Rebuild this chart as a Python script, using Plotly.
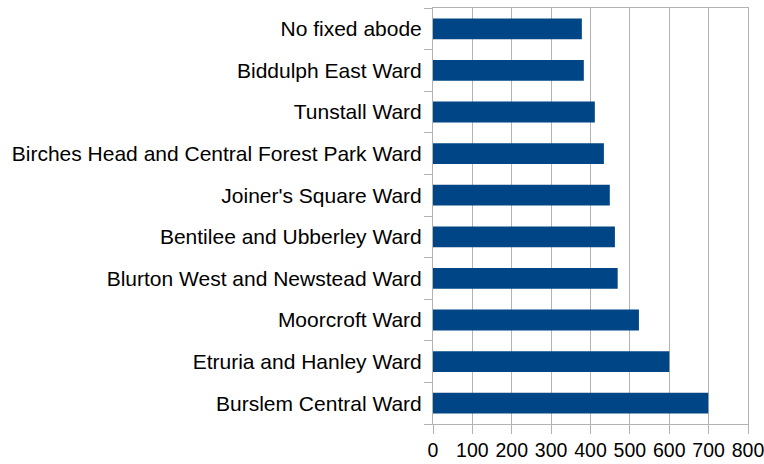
import plotly.graph_objects as go

# Wards, listed bottom to top as drawn on the category axis
wards = [
    "Burslem Central Ward",
    "Etruria and Hanley Ward",
    "Moorcroft Ward",
    "Blurton West and Newstead Ward",
    "Bentilee and Ubberley Ward",
    "Joiner's Square Ward",
    "Birches Head and Central Forest Park Ward",
    "Tunstall Ward",
    "Biddulph East Ward",
    "No fixed abode",
]
counts = [699, 600, 523, 469, 462, 449, 434, 411, 383, 378]

x_ticks = [0, 100, 200, 300, 400, 500, 600, 700, 800]

grid_col = "#b3b3b3"

fig = go.Figure(
    go.Bar(
        x=counts,
        y=wards,
        orientation="h",
        marker=dict(color="#004586", line=dict(width=0)),
        hoverinfo="x+y",
    )
)

fig.update_layout(
    width=764,
    height=464,
    margin=dict(l=433, r=16, t=8, b=40),
    paper_bgcolor="white",
    plot_bgcolor="white",
    bargap=0.5,
    showlegend=False,
    font=dict(family="Liberation Sans, Arial, sans-serif", size=21, color="#000000"),
)

fig.update_xaxes(
    range=[0, 800],
    tickvals=x_ticks,
    ticktext=[str(v) for v in x_ticks],
    showgrid=True,
    gridcolor=grid_col,
    gridwidth=1,
    zeroline=False,
    showline=True,
    linecolor=grid_col,
    linewidth=1,
    mirror=True,
    ticks="outside",
    ticklen=9,
    tickcolor=grid_col,
    tickfont=dict(size=19.5),
    ticklabeloverflow="allow",
    automargin=False,
)

fig.update_yaxes(
    type="category",
    categoryorder="array",
    categoryarray=wards,
    showgrid=False,
    zeroline=False,
    showline=True,
    linecolor=grid_col,
    linewidth=1,
    mirror=True,
    ticks="outside",
    tickson="boundaries",
    ticklen=8,
    tickcolor=grid_col,
    tickfont=dict(size=21),
    ticklabelstandoff=6,
    automargin=False,
)

fig.write_html("out.html")
